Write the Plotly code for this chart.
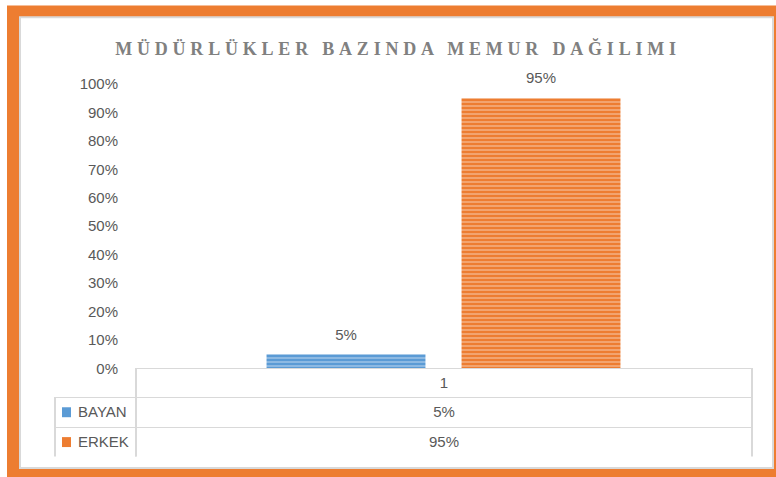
import plotly.graph_objects as go

# ---- data ----
categories = ["1"]
series_names = ["BAYAN", "ERKEK"]
bayan_values = [0.05]
erkek_values = [0.95]
series_colors = ["#5B9BD5", "#ED7D31"]
title_text = "MÜDÜRLÜKLER BAZINDA MEMUR DAĞILIMI"

W, H = 776, 477
ML, MR, MT, MB = 55, 24, 84, 18
PW, PH = W - ML - MR, H - MT - MB

def px_x(x):
    return (x - ML) / PW

def px_y(y):
    return (H - MB - y) / PH

text_col = "#595959"
grid_col = "#d9d9d9"
sans = "Liberation Sans, Arial, sans-serif"

fig = go.Figure()

all_values = [bayan_values, erkek_values]
for name, vals, col in zip(series_names, all_values, series_colors):
    fig.add_trace(go.Bar(
        x=categories, y=vals, name=name,
        marker=dict(color=col, line=dict(width=0),
                    pattern=dict(shape="-", fgcolor="rgba(255,255,255,0.6)",
                                 bgcolor=col, size=4, solidity=0.5)),
        hoverinfo="skip", showlegend=False,
    ))

for name, vals in zip(series_names, all_values):
    fig.add_trace(go.Scatter(
        x=categories, y=vals, mode="markers+text",
        text=[f"{v:.0%}" for v in vals], textposition="top center",
        textfont=dict(family=sans, size=15, color=text_col),
        marker=dict(size=16, opacity=0), cliponaxis=False,
        hoverinfo="skip", showlegend=False,
    ))

# data table below the chart
x0_dom = px_x(137)
x1_dom = px_x(750)
y_split = px_y(370)

legend_cells = ["\u2002\u2002" + n for n in series_names]
value_cells = [f"{v[0]:.0%}" for v in all_values]

fig.add_trace(go.Table(
    domain=dict(x=[0, 1], y=[0, y_split]),
    columnwidth=[81, 616],
    header=dict(values=["", categories[0]], height=29,
                align=["left", "center"],
                fill=dict(color=["rgba(0,0,0,0)", "white"]),
                line=dict(color=["rgba(0,0,0,0)", grid_col], width=1.5),
                font=dict(family=sans, size=15, color=text_col)),
    cells=dict(values=[legend_cells, value_cells], height=30,
               align=["left", "center"],
               fill=dict(color="white"),
               line=dict(color=grid_col, width=1.5),
               font=dict(family=sans, size=15, color=text_col)),
))

# frame + legend keys in the table
shapes = [
    dict(type="rect", xref="paper", yref="paper", layer="below",
         x0=px_x(7), x1=px_x(800), y0=px_y(5), y1=px_y(500),
         fillcolor="#ED7D31", line=dict(width=0)),
    dict(type="rect", xref="paper", yref="paper", layer="below",
         x0=px_x(20), x1=px_x(773), y0=px_y(17), y1=px_y(470),
         fillcolor="white", line=dict(color=grid_col, width=2)),
]
for i, col in enumerate(series_colors):
    cy = 414 + 30 * i
    shapes.append(dict(type="rect", xref="paper", yref="paper", layer="above",
                       x0=px_x(62), x1=px_x(71), y0=px_y(cy - 5), y1=px_y(cy + 5),
                       fillcolor=col, line=dict(width=0)))

fig.update_layout(
    width=W, height=H,
    margin=dict(l=ML, r=MR, t=MT, b=MB),
    paper_bgcolor="white", plot_bgcolor="rgba(0,0,0,0)",
    barmode="group", bargap=0.3638, bargroupgap=0.185,
    scattermode="group", scattergap=0.3638,
    shapes=shapes,
    title=dict(text=title_text, x=398 / W, xanchor="center",
               y=1 - 49 / H, yanchor="middle",
               font=dict(family="Liberation Serif, Times New Roman, serif",
                         size=18, color="#808080", weight="bold")),
    xaxis=dict(type="category", domain=[x0_dom, x1_dom], range=[-0.5, 0.5],
               showticklabels=False, showgrid=False, zeroline=False,
               showline=False, fixedrange=True),
    yaxis=dict(domain=[y_split, 1], range=[0, 1], dtick=0.1,
               tickformat=".0%", showgrid=False, zeroline=False,
               showline=False, ticks="", ticklabelstandoff=18,
               tickfont=dict(family=sans, size=15, color=text_col)),
)

post = ("var s=document.createElement('style');"
        "s.innerHTML='body{margin:0;padding:0}.gtitle{letter-spacing:4.8px}';"
        "document.head.appendChild(s);")
fig.write_html("out.html", post_script=post, config={"displayModeBar": False})
